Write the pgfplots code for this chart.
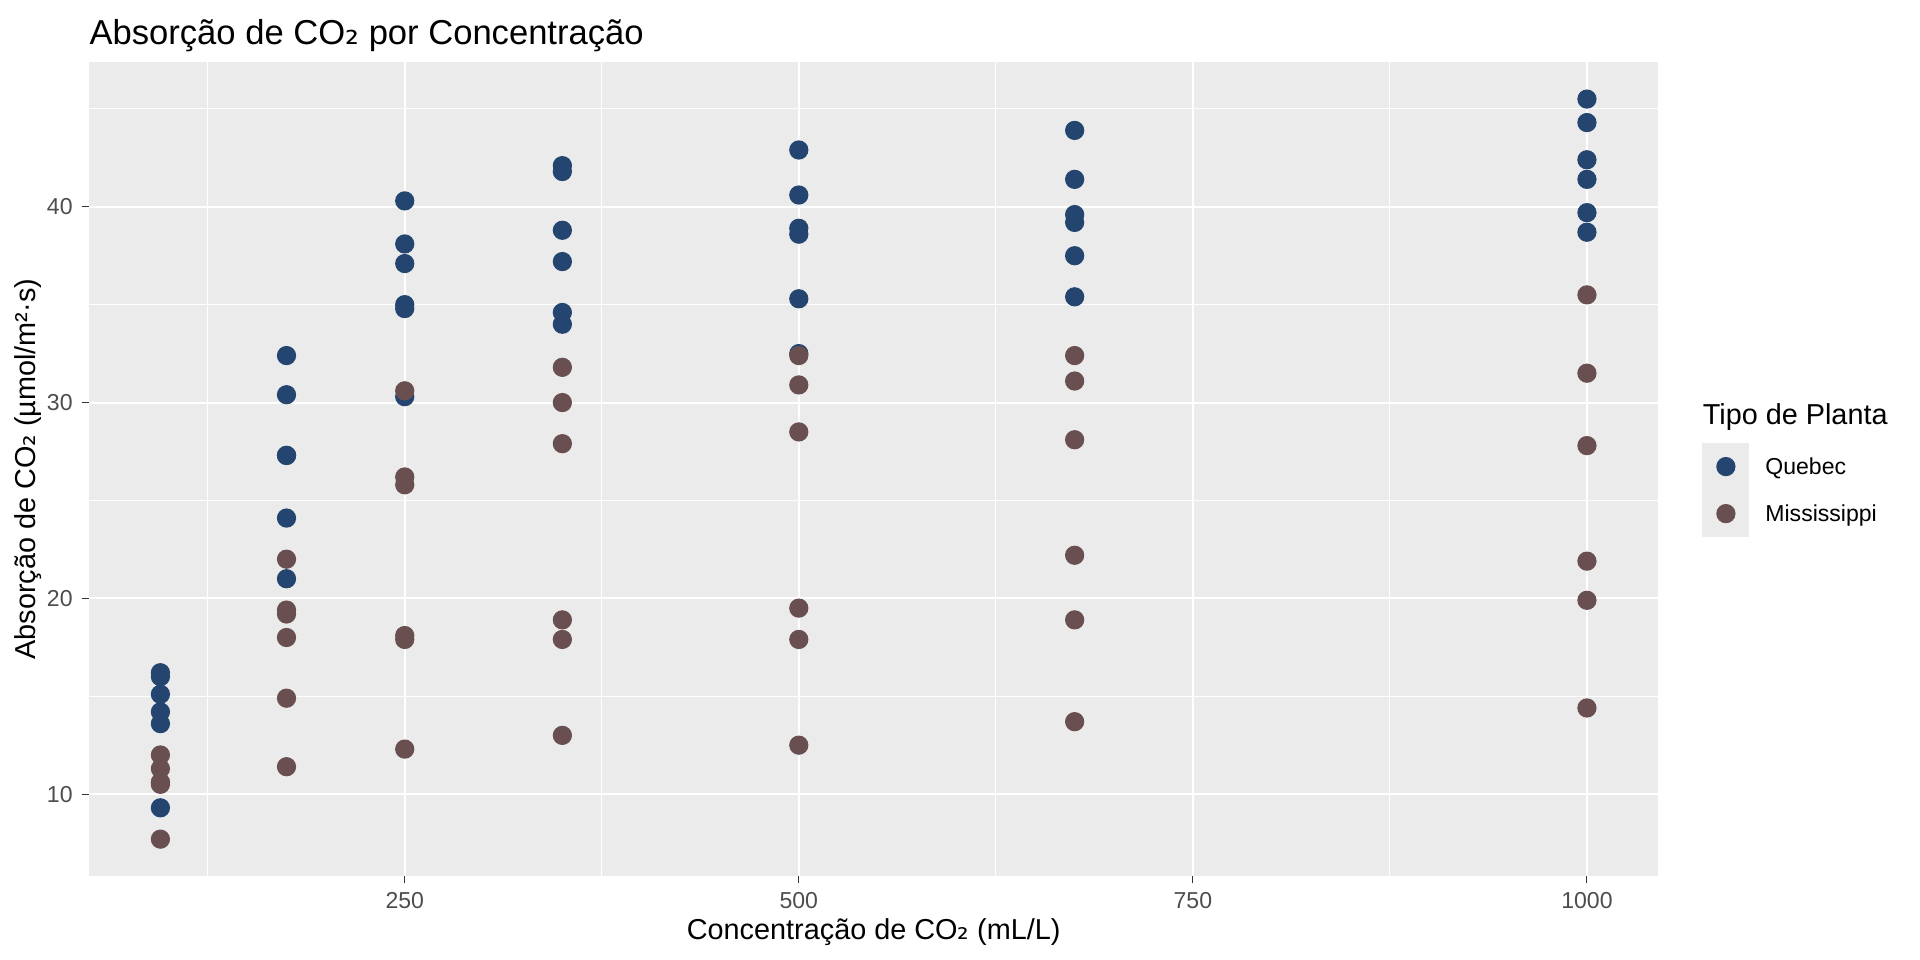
\documentclass[border=0pt]{standalone}
\usepackage{fontspec}
\setmainfont{Liberation Sans}
\newfontfamily\dv{DejaVu Sans}
\usepackage{pgfplots}
\pgfplotsset{compat=1.18}

\definecolor{qcol}{RGB}{35,69,112}
\definecolor{mcol}{RGB}{105,79,79}
\definecolor{panelbg}{RGB}{235,235,235}
\definecolor{tickcol}{RGB}{51,51,51}
\definecolor{labcol}{RGB}{77,77,77}
\newcommand{\two}{{\dv ₂}}

\pgfplotsset{
  ggkey/.style={legend image code/.code={
      \fill[panelbg] (-8.775pt,-8.775pt) rectangle (8.775pt,8.775pt);
      \draw plot coordinates {(0pt,0pt)};}},
  ggpoint/.style={only marks, mark=*, mark size=3.47pt, mark options={line width=0.2pt}},
}

\begin{document}
\begin{tikzpicture}
\useasboundingbox (0pt,0pt) rectangle (732.8pt,366.4pt);
\begin{axis}[
  at={(34pt,32pt)}, anchor=south west,
  scale only axis, width=598.9pt, height=310.7pt,
  xmin=49.75, xmax=1045.25, ymin=5.81, ymax=47.39,
  axis background/.style={fill=panelbg},
  axis line style={draw=none},
  xtick={250,500,750,1000}, ytick={10,20,30,40},
  minor xtick={125,375,625,875}, minor ytick={15,25,35,45},
  grid=both,
  major grid style={white, line width=0.76pt},
  minor grid style={white, line width=0.38pt},
  minor tick length=0pt,
  major tick length=2.75pt,
  tick align=outside,
  xtick pos=bottom, ytick pos=left,
  tick style={tickcol, line width=0.4pt},
  ticklabel style={font=\fontsize{8.8}{10}\selectfont, text=labcol},
  /pgf/number format/assume math mode=true,
  /pgf/number format/1000 sep={},
  legend style={at={(1.0281,0.532)}, anchor=north west, draw=none, fill=none,
    inner sep=0pt, outer sep=0pt, row sep=0pt,
    nodes={inner sep=0pt, text depth=0pt, font=\fontsize{8.8}{10}\selectfont},
    /tikz/every odd column/.style={column sep=6.1pt}},
  legend cell align=left,
]
% Quebec
\addplot[ggpoint, color=qcol, mark options={fill=qcol, draw=qcol}, ggkey] coordinates {
(95,16.0) (95,13.6) (95,16.2) (95,14.2) (95,9.3) (95,15.1)
(175,30.4) (175,27.3) (175,32.4) (175,24.1) (175,27.3) (175,21.0)
(250,34.8) (250,37.1) (250,40.3) (250,30.3) (250,35.0) (250,38.1)
(350,37.2) (350,41.8) (350,42.1) (350,34.6) (350,38.8) (350,34.0)
(500,35.3) (500,40.6) (500,42.9) (500,32.5) (500,38.6) (500,38.9)
(675,39.2) (675,41.4) (675,43.9) (675,35.4) (675,37.5) (675,39.6)
(1000,39.7) (1000,44.3) (1000,45.5) (1000,38.7) (1000,42.4) (1000,41.4)
}; \addlegendentry{Quebec}
% Mississippi
\addplot[ggpoint, color=mcol, mark options={fill=mcol, draw=mcol}, ggkey] coordinates {
(95,10.6) (95,12.0) (95,11.3) (95,10.5) (95,7.7) (95,10.6)
(175,19.2) (175,22.0) (175,19.4) (175,14.9) (175,11.4) (175,18.0)
(250,26.2) (250,30.6) (250,25.8) (250,18.1) (250,12.3) (250,17.9)
(350,30.0) (350,31.8) (350,27.9) (350,18.9) (350,13.0) (350,17.9)
(500,30.9) (500,32.4) (500,28.5) (500,19.5) (500,12.5) (500,17.9)
(675,32.4) (675,31.1) (675,28.1) (675,22.2) (675,13.7) (675,18.9)
(1000,35.5) (1000,31.5) (1000,27.8) (1000,21.9) (1000,14.4) (1000,19.9)
}; \addlegendentry{Mississippi}
\end{axis}
% title, axis titles, legend title
\node[anchor=base west, inner sep=0pt, font=\fontsize{13.2}{15}\selectfont] at (34pt,349.6pt) {Absorção de CO\two{} por Concentração};
\node[anchor=base, inner sep=0pt, font=\fontsize{11}{13}\selectfont] at (333.45pt,7.8pt) {Concentração de CO\two{} (mL/L)};
\node[anchor=north, rotate=90, inner sep=0pt, font=\fontsize{11}{13}\selectfont] at (5.5pt,187.35pt) {Absorção de CO\two{} (µmol/m²·s)};
\node[anchor=base west, inner sep=0pt, font=\fontsize{11}{13}\selectfont] at (649.7pt,204.2pt) {Tipo de Planta};
\end{tikzpicture}
\end{document}
